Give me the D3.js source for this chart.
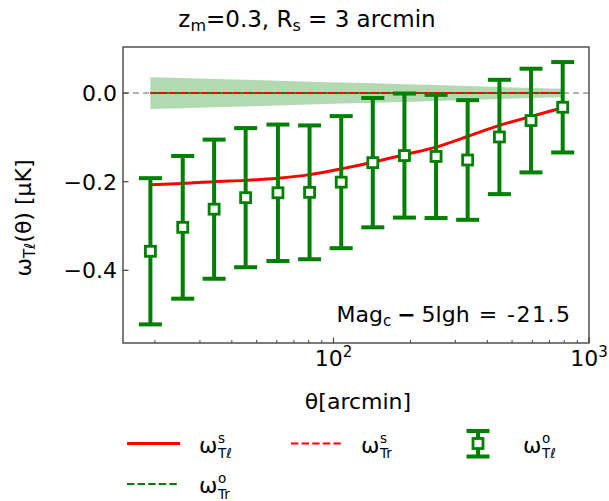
<!DOCTYPE html>
<html>
<head>
<meta charset="utf-8">
<script src="https://cdn.jsdelivr.net/npm/d3@7"></script>
<style>
  html, body { margin: 0; padding: 0; background: #fff; }
  svg { display: block; font-family: "DejaVu Sans", sans-serif; }
</style>
</head>
<body>
<svg id="chart" width="609" height="501"></svg>
<script>
// Angular bins (arcmin)
const theta = [19.2, 25.7, 34.1, 45.3, 60.6, 80.6, 107.2, 142.5, 189.5, 252, 335, 446, 593, 789];
// Observed ω_Tℓ with 1σ errors
const obsTl = [-0.357, -0.303, -0.262, -0.236, -0.225, -0.224, -0.201, -0.157, -0.141, -0.143, -0.151, -0.099, -0.062, -0.032];
const obsTlErr = [0.165, 0.161, 0.157, 0.157, 0.154, 0.151, 0.149, 0.146, 0.140, 0.139, 0.135, 0.129, 0.117, 0.102];
// Simulated ω_Tℓ
const simTl = [-0.207, -0.204, -0.200, -0.197, -0.192, -0.184, -0.171, -0.156, -0.139, -0.122, -0.098, -0.073, -0.053, -0.033];
// Random-catalogue correlations (simulated and observed) and the observed scatter
const simTr = [0, 0, 0, 0, 0, 0, 0, 0, 0, 0, 0, 0, 0, 0];
const obsTr = [0, 0, 0, 0, 0, 0, 0, 0, 0, 0, 0, 0, 0, 0];
const obsTrErr = [0.036, 0.034, 0.032, 0.030, 0.028, 0.0255, 0.0237, 0.022, 0.020, 0.018, 0.0158, 0.0136, 0.0113, 0.0095];
// Axis ticks
const xMajor = [100, 1000];
const xMajorExp = ["2", "3"];
const xMinor = [20, 30, 40, 50, 60, 70, 80, 90, 200, 300, 400, 500, 600, 700, 800, 900];
const yTicks = [0.0, -0.2, -0.4];

const svg = d3.select("#chart");
const pL = 123, pR = 589, pT = 47, pB = 343;
const FS = 22, SFS = 15;
const GREEN = "#008000", RED = "#ff0000";

const x = d3.scaleLog().domain([15, 1000]).range([pL, pR]);
const y = d3.scaleLinear().domain([-0.564, 0.104]).range([pB, pT]);

svg.append("defs").append("clipPath").attr("id", "clip")
  .append("rect").attr("x", pL).attr("y", pT).attr("width", pR - pL).attr("height", pB - pT);
const plot = svg.append("g").attr("clip-path", "url(#clip)");

const pts = theta.map((t, i) => ({
  t, o: obsTl[i], e: obsTlErr[i], s: simTl[i], sr: simTr[i], or: obsTr[i], oe: obsTrErr[i]
}));

// scatter band of the observed random correlation
plot.append("path")
  .datum(pts)
  .attr("fill", GREEN).attr("fill-opacity", 0.3)
  .attr("d", d3.area().x(d => x(d.t)).y0(d => y(d.or - d.oe)).y1(d => y(d.or + d.oe)));

// zero reference line
plot.append("line")
  .attr("x1", pL).attr("x2", pR).attr("y1", y(0)).attr("y2", y(0))
  .attr("stroke", "#b4b4b4").attr("stroke-width", 2).attr("stroke-dasharray", "6,4");

plot.append("path").datum(pts)
  .attr("fill", "none").attr("stroke", GREEN).attr("stroke-width", 2)
  .attr("stroke-dasharray", "7.4,3.2")
  .attr("d", d3.line().x(d => x(d.t)).y(d => y(d.or)));

plot.append("path").datum(pts)
  .attr("fill", "none").attr("stroke", RED).attr("stroke-width", 2)
  .attr("stroke-dasharray", "7.4,3.2").attr("stroke-dashoffset", 3)
  .attr("d", d3.line().x(d => x(d.t)).y(d => y(d.sr)));

plot.append("path").datum(pts)
  .attr("fill", "none").attr("stroke", RED).attr("stroke-width", 3)
  .attr("d", d3.line().curve(d3.curveMonotoneX).x(d => x(d.t)).y(d => y(d.s)));

// error bars with open square markers
const eb = plot.append("g").selectAll("g").data(pts).join("g");
eb.append("line")
  .attr("x1", d => x(d.t)).attr("x2", d => x(d.t))
  .attr("y1", d => y(d.o - d.e)).attr("y2", d => y(d.o + d.e))
  .attr("stroke", GREEN).attr("stroke-width", 4);
[-1, 1].forEach(sgn => {
  eb.append("line")
    .attr("x1", d => x(d.t) - 11.5).attr("x2", d => x(d.t) + 11.5)
    .attr("y1", d => y(d.o + sgn * d.e)).attr("y2", d => y(d.o + sgn * d.e))
    .attr("stroke", GREEN).attr("stroke-width", 4);
});
eb.append("rect")
  .attr("x", d => x(d.t) - 5).attr("y", d => y(d.o) - 5)
  .attr("width", 10).attr("height", 10)
  .attr("fill", "#fff").attr("stroke", GREEN).attr("stroke-width", 2.8);

// frame
const AX = "#444";
svg.append("rect").attr("x", pL).attr("y", pT).attr("width", pR - pL).attr("height", pB - pT)
  .attr("fill", "none").attr("stroke", AX).attr("stroke-width", 1.4);

// x ticks (inward)
svg.append("g").selectAll("line").data(xMinor).join("line")
  .attr("x1", d => x(d)).attr("x2", d => x(d)).attr("y1", pB).attr("y2", pB - 3)
  .attr("stroke", AX).attr("stroke-width", 1);
svg.append("g").selectAll("line").data(xMajor).join("line")
  .attr("x1", d => x(d)).attr("x2", d => x(d)).attr("y1", pB).attr("y2", pB - 5.5)
  .attr("stroke", AX).attr("stroke-width", 1.2);
const xl = svg.append("g").selectAll("text").data(xMajor).join("text")
  .attr("x", d => x(d)).attr("y", 366).attr("text-anchor", "middle")
  .attr("font-size", FS).attr("fill", "#000");
xl.append("tspan").text("10");
xl.append("tspan").attr("dy", -9).attr("font-size", SFS).text((d, i) => xMajorExp[i]);

// y ticks (inward)
svg.append("g").selectAll("line").data(yTicks).join("line")
  .attr("x1", pL).attr("x2", pL + 5.5).attr("y1", d => y(d)).attr("y2", d => y(d))
  .attr("stroke", AX).attr("stroke-width", 1.2);
svg.append("g").selectAll("text").data(yTicks).join("text")
  .attr("x", 117).attr("y", d => y(d)).attr("dy", "0.36em").attr("text-anchor", "end")
  .attr("font-size", FS).attr("fill", "#000")
  .text(d => d === 0 ? "0.0" : "\u2212" + Math.abs(d).toFixed(1));

// axis labels
svg.append("text").attr("x", (pL + pR) / 2 + 2).attr("y", 409).attr("text-anchor", "middle")
  .attr("font-size", FS).text("θ[arcmin]");

const yl = svg.append("text").attr("transform", "translate(31,218) rotate(-90)")
  .attr("text-anchor", "middle").attr("font-size", FS);
yl.append("tspan").text("ω");
yl.append("tspan").attr("dy", 4).attr("font-size", SFS).text("Tℓ");
yl.append("tspan").attr("dy", -4).text("(θ) [μK]");

// title
const tt = svg.append("text").attr("x", 307).attr("y", 27).attr("text-anchor", "middle").attr("font-size", 23);
tt.append("tspan").text("z");
tt.append("tspan").attr("dy", 4).attr("font-size", 16).text("m");
tt.append("tspan").attr("dy", -4).text("=0.3, R");
tt.append("tspan").attr("dy", 4).attr("font-size", 16).text("s");
tt.append("tspan").attr("dy", -4).text(" = 3 arcmin");

// magnitude cut annotation
const an = svg.append("text").attr("x", 571.5).attr("y", 322).attr("text-anchor", "end").attr("font-size", FS);
an.append("tspan").text("Mag");
an.append("tspan").attr("dy", 4).attr("font-size", SFS).text("c");
an.append("tspan").attr("dy", -4).attr("dx", 6).attr("font-weight", "bold").text("\u2212");
an.append("tspan").attr("dx", 6).text("5lgh");
an.append("tspan").attr("dx", 9).text("=");
an.append("tspan").attr("dx", 10).attr("letter-spacing", 1.5).text("-21.5");

// legend entries: ω with stacked super- and subscript
function scriptLabel(g, x0, y0, sup, sub) {
  const t = g.append("text").attr("x", x0).attr("y", y0).attr("font-size", FS);
  const base = t.append("tspan").text("ω");
  const w = base.node().getComputedTextLength();
  t.append("tspan").attr("x", x0 + w + 0.5).attr("y", y0 - 10).attr("font-size", 13.5).text(sup);
  t.append("tspan").attr("x", x0 + w + 0.5).attr("y", y0 + 5.8).attr("font-size", 13.5).text(sub);
}
const lg = svg.append("g");
const row1 = 443.5, row2 = 484;
lg.append("line").attr("x1", 127).attr("x2", 180).attr("y1", row1).attr("y2", row1)
  .attr("stroke", RED).attr("stroke-width", 3);
scriptLabel(lg, 199, 452.5, "s", "Tℓ");
lg.append("line").attr("x1", 291).attr("x2", 341).attr("y1", row1).attr("y2", row1)
  .attr("stroke", RED).attr("stroke-width", 2).attr("stroke-dasharray", "7.4,3.2");
scriptLabel(lg, 361, 452.5, "s", "Tr");
const lx = 478;
lg.append("line").attr("x1", lx).attr("x2", lx).attr("y1", 431).attr("y2", 456.5)
  .attr("stroke", GREEN).attr("stroke-width", 4);
[431, 456.5].forEach(cy => lg.append("line").attr("x1", lx - 11.5).attr("x2", lx + 11.5)
  .attr("y1", cy).attr("y2", cy).attr("stroke", GREEN).attr("stroke-width", 4));
lg.append("rect").attr("x", lx - 5).attr("y", row1 - 5).attr("width", 10).attr("height", 10)
  .attr("fill", "#fff").attr("stroke", GREEN).attr("stroke-width", 2.8);
scriptLabel(lg, 523, 452.5, "o", "Tℓ");
lg.append("line").attr("x1", 127).attr("x2", 180).attr("y1", row2).attr("y2", row2)
  .attr("stroke", GREEN).attr("stroke-width", 2).attr("stroke-dasharray", "7.4,3.2");
scriptLabel(lg, 199, 493, "o", "Tr");
</script>
</body>
</html>
